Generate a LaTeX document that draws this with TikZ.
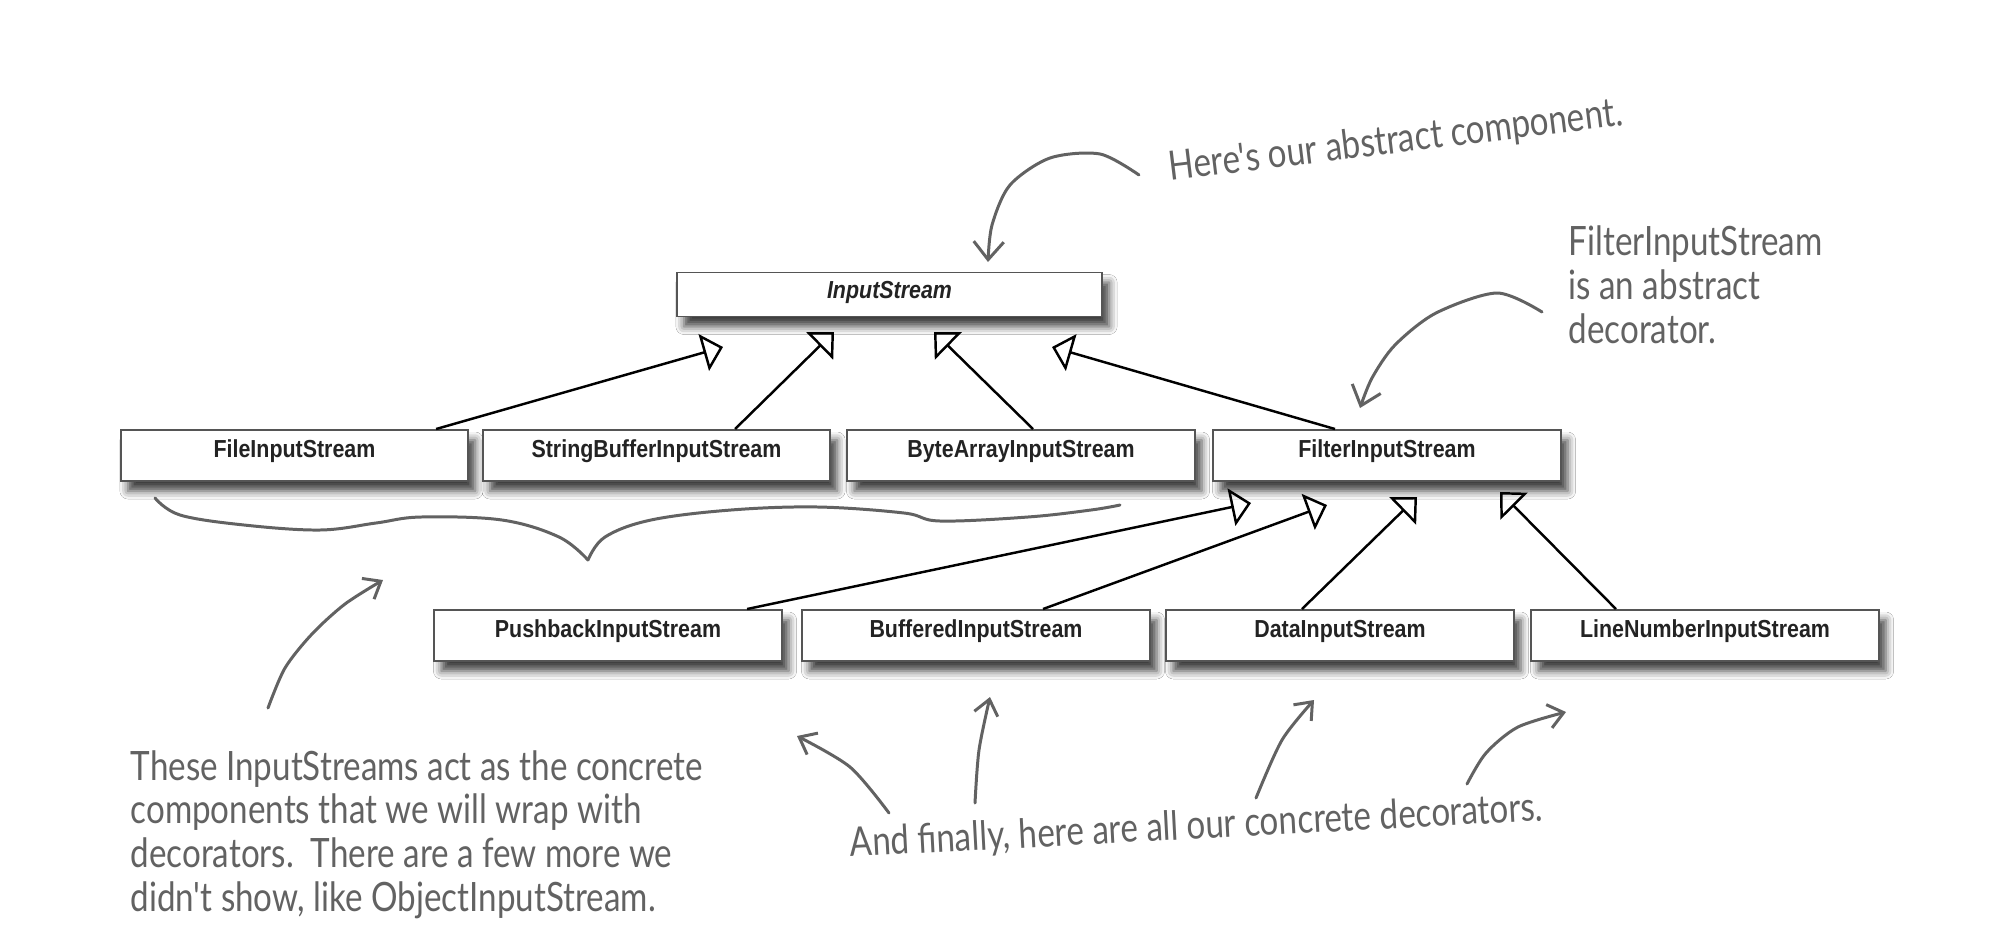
\documentclass[tikz,border=0pt]{standalone}
\usepackage{fontspec}
\setmainfont{Liberation Sans}
\newfontfamily\classfont[FakeStretch=0.87]{Liberation Sans}
\newfontfamily\notefont[FakeStretch=0.82]{Lato}
\usetikzlibrary{arrows.meta,shadows.blur}
\definecolor{pencil}{RGB}{98,98,98}
\definecolor{boxline}{RGB}{85,85,85}
\definecolor{labelink}{RGB}{35,35,35}
\tikzset{
  classbox/.style={draw=boxline, line width=0.55pt, fill=white, text=labelink,
    minimum width=3.47cm, inner xsep=0pt, inner ysep=0pt,
    text height=0.27cm, text depth=0.24cm,
    font=\classfont\bfseries\fontsize{7}{8}\selectfont,
    blur shadow={shadow xshift=0.07cm, shadow yshift=-0.1cm,
      shadow blur radius=0.08cm, shadow opacity=75}},
  extends/.style={draw=black, line width=0.7pt,
    -{Triangle[open, length=0.2cm, width=0.38cm]}},
  note/.style={text=pencil, font=\notefont\fontsize{11.5}{12.5}\selectfont,
    inner sep=0pt, anchor=base west},
  scribble/.style={draw=pencil, line width=0.85pt, line cap=round, line join=round},
  pointer/.style={scribble, -{Straight Barb[length=0.15cm, width=0.24cm]}},
}
\begin{document}
\begin{tikzpicture}[x=0.01cm, y=-0.01cm]
\fill[white] (0,0) rectangle (2000,948);
\useasboundingbox (0,0) rectangle (2000,948);

% abstract component
\node[classbox, minimum width=4.25cm, text height=0.26cm, text depth=0.18cm,
  font=\classfont\bfseries\itshape\fontsize{7}{8}\selectfont]
  (inputStream) at (889.5,294.5) {InputStream};

% concrete components
\node[classbox] (fileIS)   at (294.5,455.5) {FileInputStream};
\node[classbox] (sbufIS)   at (656.5,455.5) {StringBufferInputStream};
\node[classbox] (bytesIS)  at (1021,455.5)  {ByteArrayInputStream};
\node[classbox] (filterIS) at (1387,455.5)  {FilterInputStream};

% concrete decorators
\node[classbox] (pushIS) at (608,635.5)  {PushbackInputStream};
\node[classbox] (bufIS)  at (976,635.5)  {BufferedInputStream};
\node[classbox] (dataIS) at (1340,635.5) {DataInputStream};
\node[classbox] (lineIS) at (1705,635.5) {LineNumberInputStream};

% arrow tips of the generalisations
\coordinate (g1) at (723,347);
\coordinate (g2) at (834,332);
\coordinate (g3) at (934,332);
\coordinate (g4) at (1052,347);
\coordinate (f1) at (1251,503);
\coordinate (f2) at (1327,505);
\coordinate (f3) at (1417,497);
\coordinate (f4) at (1500,492);

\draw[extends] ([xshift=1.415cm]fileIS.north)  -- (g1);
\draw[extends] ([xshift=0.785cm]sbufIS.north)  -- (g2);
\draw[extends] ([xshift=0.12cm]bytesIS.north)  -- (g3);
\draw[extends] ([xshift=-0.52cm]filterIS.north) -- (g4);
\draw[extends] ([xshift=1.39cm]pushIS.north)   -- (f1);
\draw[extends] ([xshift=0.67cm]bufIS.north)    -- (f2);
\draw[extends] ([xshift=-0.38cm]dataIS.north)  -- (f3);
\draw[extends] ([xshift=-0.89cm]lineIS.north)  -- (f4);

% hand-drawn brace under the concrete components
\draw[scribble] plot[smooth, tension=0.6] coordinates {(155,498) (180,515) (244,525) (320,530) (376,523) (421,517) (502,520) (559,537) (588,560)};
\draw[scribble] plot[smooth, tension=0.6] coordinates {(588,560) (605,537) (651,520) (731,510) (818,507) (904,513) (940,521) (1028,517) (1091,510) (1120,505)};

% notes
\node[note, rotate=7] (absNote) at (1170,181) {Here's our abstract component.};
\node[note] (decoNoteA) at (1568,255) {FilterInputStream};
\node[note] (decoNoteB) at (1568,299) {is an abstract};
\node[note] (decoNoteC) at (1568,343) {decorator.};
\node[note] (compNoteA) at (130,780) {These InputStreams act as the concrete};
\node[note] (compNoteB) at (130,823) {components that we will wrap with};
\node[note] (compNoteC) at (130,867) {decorators.\ \ There are a few more we};
\node[note] (compNoteD) at (130,911) {didn't show, like ObjectInputStream.};
\node[note, rotate=3] (finalNote) at (850,857) {And finally, here are all our concrete decorators.};

% pencil pointers
\draw[pointer, -{Straight Barb[length=0.18cm, width=0.3cm]}] plot[smooth] coordinates {(1139,175) (1100,154) (1050,158) (1010,185) (992,225) (988,262)};
\draw[pointer, -{Straight Barb[length=0.18cm, width=0.3cm]}] plot[smooth] coordinates {(1542,312) (1497,293) (1436,313) (1395,345) (1372,378) (1360,408)};
\draw[pointer] plot[smooth] coordinates {(268,708) (285,668) (312,634) (345,604) (383,580)};
\draw[pointer] plot[smooth] coordinates {(889,813) (850,767) (797,736)};
\draw[pointer] plot[smooth] coordinates {(975,803) (979,750) (990,697)};
\draw[pointer] plot[smooth] coordinates {(1256,798) (1282,740) (1314,700)};
\draw[pointer] plot[smooth] coordinates {(1467,784) (1486,753) (1518,727) (1566,712)};
\end{tikzpicture}
\end{document}
